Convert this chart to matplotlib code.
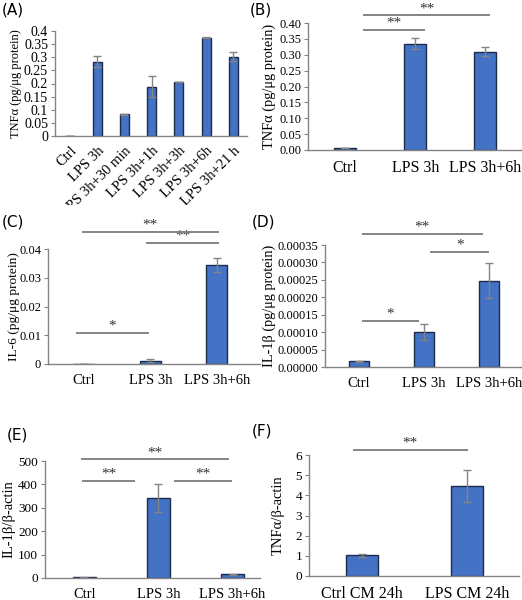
import matplotlib
matplotlib.use("Agg")
import matplotlib.pyplot as plt
from matplotlib.ticker import FormatStrFormatter
from matplotlib.transforms import Bbox, TransformedBbox

plt.rcParams['font.family'] = ['Liberation Serif', 'DejaVu Serif']

W, H = 522, 600

# (A) TNFa time course
a_cats = ["Ctrl", "LPS 3h", "LPS 3h+30 min", "LPS 3h+1h", "LPS 3h+3h", "LPS 3h+6h", "LPS 3h+21 h"]
a_vals = [0.0, 0.283, 0.083, 0.188, 0.205, 0.375, 0.302]
a_errs = [0.0, 0.020, 0.002, 0.040, 0.001, 0.002, 0.017]

# (B) TNFa
b_cats = ["Ctrl", "LPS 3h", "LPS 3h+6h"]
b_vals = [0.006, 0.335, 0.310]
b_errs = [0.001, 0.017, 0.013]

# (C) IL-6
c_cats = ["Ctrl", "LPS 3h", "LPS 3h+6h"]
c_vals = [0.0, 0.0012, 0.0345]
c_errs = [0.0, 0.0004, 0.0025]

# (D) IL-1b protein
d_cats = ["Ctrl", "LPS 3h", "LPS 3h+6h"]
d_vals = [0.000016, 0.000100, 0.000248]
d_errs = [0.000001, 0.000022, 0.000049]

# (E) IL-1b mRNA
e_cats = ["Ctrl", "LPS 3h", "LPS 3h+6h"]
e_vals = [3, 342, 15]
e_errs = [1, 60, 1]

# (F) TNFa mRNA after conditioned medium
f_cats = ["Ctrl CM 24h", "LPS CM 24h"]
f_vals = [1.02, 4.47]
f_errs = [0.08, 0.80]

BAR = '#4472C4'
EDGE = '#1c2b4a'
GREY = '#848484'


def px_axes(fig, left, top, right, bottom):
    return fig.add_axes([left / W, 1 - bottom / H, (right - left) / W, (bottom - top) / H])


def draw_panel(fig, box, cats, vals, errs, ylim, yticks, fmt, xlim, width,
               tick_fs, xtick_fs, ylabel, label_fs, label_x, brackets, rot=False):
    ax = px_axes(fig, *box)
    x = list(range(len(cats)))
    ax.bar(x, vals, width=width, color=BAR, edgecolor=EDGE, linewidth=1.0, zorder=2)
    ax.errorbar(x, vals, yerr=errs, fmt='none', ecolor=GREY, elinewidth=1.0,
                capsize=3, capthick=1.0, zorder=3)
    ax.set_xlim(*xlim)
    ax.set_ylim(*ylim)
    ax.set_yticks(yticks)
    ax.yaxis.set_major_formatter(FormatStrFormatter(fmt))
    for s in ['top', 'right']:
        ax.spines[s].set_visible(False)
    for s in ['left', 'bottom']:
        ax.spines[s].set_color(GREY)
        ax.spines[s].set_linewidth(1.0)
    ax.tick_params(axis='y', direction='out', length=3, color=GREY, labelsize=tick_fs, pad=2)
    ax.set_xticks(x)
    if rot:
        ax.set_xticklabels(cats, rotation=45, ha='right', rotation_mode='anchor', fontsize=xtick_fs)
        ax.tick_params(axis='x', length=0, pad=6)
    else:
        ax.set_xticklabels(cats, fontsize=xtick_fs)
        ax.tick_params(axis='x', length=0, pad=7)
    ax.set_ylabel(ylabel, fontsize=label_fs)
    # label anchored by its right edge (in pixels from figure left)
    l = box[0]
    r = box[2]
    ax.yaxis.set_label_coords((label_x - l) / (r - l), 0.5)
    for x1, x2, y, txt in brackets:
        ax.plot([x1, x2], [y, y], color=GREY, lw=1.4, clip_on=False, zorder=4)
        ax.text((x1 + x2) / 2, y, txt, ha='center', va='bottom', fontsize=11,
                color='#333333', clip_on=False)
    return ax


fig = plt.figure(figsize=(W / 100, H / 100), dpi=100)

ax_a = draw_panel(fig, (55, 31, 247, 136), a_cats, a_vals, a_errs, (0, 0.4),
                  [0, 0.05, 0.1, 0.15, 0.2, 0.25, 0.3, 0.35, 0.4], '%g', (-0.55, 6.5), 0.33,
                  10, 10.5, "TNFα (pg/μg protein)", 9, 22, [], rot=True)
# the long rotated labels are cut off by the panel below, as in the original figure
cut = TransformedBbox(Bbox([[0, 1 - 205 / H], [1, 1]]), fig.transFigure)
for lbl in ax_a.get_xticklabels():
    lbl.set_clip_box(cut)
    lbl.set_clip_on(True)

draw_panel(fig, (308, 23, 521, 150), b_cats, b_vals, b_errs, (0, 0.40),
           [i * 0.05 for i in range(9)], '%.2f', (-0.53, 2.51), 0.31,
           9, 11.5, "TNFα (pg/μg protein)", 10.4, 276,
           [(0.27, 1.12, 0.378, "**"), (0.27, 2.06, 0.425, "**")])

draw_panel(fig, (48, 249, 260, 364), c_cats, c_vals, c_errs, (0, 0.04),
           [0, 0.01, 0.02, 0.03, 0.04], '%g', (-0.54, 2.65), 0.32,
           9, 10.5, "IL-6 (pg/μg protein)", 9.6, 20,
           [(-0.1, 0.96, 0.0108, "*"), (0.95, 2.02, 0.0421, "**"), (-0.02, 2.02, 0.0459, "**")])

draw_panel(fig, (325, 245, 522, 367), d_cats, d_vals, d_errs, (0, 0.00035),
           [i * 0.00005 for i in range(8)], '%.5f', (-0.52, 2.5), 0.31,
           9, 10.5, "IL-1β (pg/μg protein)", 10.3, 276,
           [(0.06, 0.91, 0.000132, "*"), (1.11, 1.98, 0.00033, "*"), (0.06, 1.88, 0.000382, "**")])

draw_panel(fig, (45, 461, 260, 578), e_cats, e_vals, e_errs, (0, 500),
           [0, 100, 200, 300, 400, 500], '%g', (-0.53, 2.37), 0.31,
           9.5, 10.5, "IL-1β/β-actin", 10.5, 15,
           [(-0.02, 0.67, 415, "**"), (1.22, 1.98, 415, "**"), (-0.03, 1.94, 508, "**")])

draw_panel(fig, (309, 455, 519, 576), f_cats, f_vals, f_errs, (0, 6),
           [0, 1, 2, 3, 4, 5, 6], '%g', (-0.51, 1.5), 0.31,
           9.5, 11.5, "TNFα/β-actin", 10.5, 285,
           [(-0.08, 1.0, 6.25, "**")])

# panel letters
for lab, xp, yp in [("(A)", 2, 10), ("(B)", 250, 10), ("(C)", 2, 222),
                    ("(D)", 252, 222), ("(E)", 7, 435), ("(F)", 252, 431)]:
    fig.text(xp / W, 1 - yp / H, lab, family='DejaVu Sans', fontsize=11,
             ha='left', va='center')

fig.savefig("out.png", dpi=100)
